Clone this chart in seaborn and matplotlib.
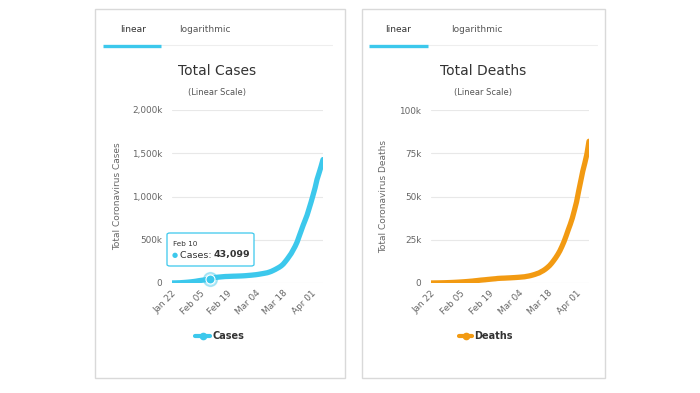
import numpy as np
import pandas as pd
import matplotlib
matplotlib.use("Agg")
import matplotlib.pyplot as plt
import matplotlib.dates as mdates
from matplotlib.patches import Rectangle, FancyBboxPatch
from matplotlib.lines import Line2D
import seaborn as sns

dates = pd.date_range("2020-01-22", "2020-04-07", freq="D")
cases = [580, 845, 1317, 2015, 2800, 4581, 6058, 7813, 9823, 11950,
         14553, 17391, 20630, 24545, 28266, 31439, 34876, 37552, 40553, 43099,
         45134, 59287, 64438, 67100, 69197, 71329, 73332, 75184, 75700, 76677,
         77673, 78651, 79205, 80087, 80828, 81820, 83112, 84615, 86604, 88585,
         90443, 93016, 95314, 98425, 102050, 106099, 109991, 114381, 118948, 126214,
         134576, 145483, 156653, 169593, 182490, 198238, 218822, 246417, 275869, 308463,
         341365, 383082, 424889, 475523, 540080, 603000, 667000, 725000, 785000, 860000,
         935000, 1016000, 1099000, 1197000, 1270000, 1345000, 1427000]
deaths = [17, 25, 41, 56, 80, 106, 132, 170, 213, 259,
          304, 362, 426, 492, 565, 638, 724, 813, 910, 1018,
          1115, 1261, 1383, 1526, 1669, 1775, 1873, 2009, 2126, 2247,
          2360, 2460, 2618, 2699, 2763, 2800, 2858, 2923, 2977, 3050,
          3117, 3202, 3285, 3387, 3494, 3599, 3827, 4025, 4296, 4628,
          4981, 5428, 5833, 6520, 7162, 7979, 8951, 10030, 11386, 12950,
          14623, 16497, 18615, 21181, 23970, 27198, 30652, 33925, 37582, 42107,
          46809, 52983, 58787, 64606, 69374, 74565, 81937]
tick_dates = ["2020-01-22", "2020-02-05", "2020-02-19", "2020-03-04", "2020-03-18", "2020-04-01"]
cases_ticks = [0, 500000, 1000000, 1500000, 2000000]
cases_ticklabels = ["0", "500k", "1,000k", "1,500k", "2,000k"]
deaths_ticks = [0, 25000, 50000, 75000, 100000]
deaths_ticklabels = ["0", "25k", "50k", "75k", "100k"]
tooltip_date = "2020-02-10"
tooltip_value = 43099

df = pd.DataFrame({"date": dates, "Cases": cases, "Deaths": deaths})

CYAN = "#3cc8ec"
ORANGE = "#f29a12"
GREY_TXT = "#666666"

sns.set_theme(style="white")
plt.rcParams["font.family"] = ["DejaVu Sans"]

W, H = 700, 393
fig = plt.figure(figsize=(7, 3.93), dpi=100)
fig.patch.set_facecolor("white")

def fx(x):
    return x / W

def fy(y):
    return 1 - y / H

# cards
for x0, x1 in [(95, 345), (362, 605)]:
    fig.add_artist(Rectangle((fx(x0), fy(378)), fx(x1 - x0), (378 - 9) / H,
                             transform=fig.transFigure, fill=False,
                             edgecolor="#d9d9d9", linewidth=1))

def card_header(x_lin, x_log, bar0, bar1, line_end, title, title_x):
    fig.text(fx(x_lin), fy(30), "linear", ha="center", va="center", fontsize=6.5, color="#333333")
    fig.text(fx(x_log), fy(30), "logarithmic", ha="center", va="center", fontsize=6.5, color="#555555")
    fig.add_artist(Line2D([fx(bar1), fx(line_end)], [fy(45), fy(45)], transform=fig.transFigure,
                          color="#eeeeee", linewidth=0.8))
    fig.add_artist(Line2D([fx(bar0), fx(bar1)], [fy(46), fy(46)], transform=fig.transFigure,
                          color=CYAN, linewidth=2.4, solid_capstyle="butt"))
    fig.text(fx(title_x), fy(71), title, ha="center", va="center", fontsize=10, color="#333333")
    fig.text(fx(title_x), fy(93), "(Linear Scale)", ha="center", va="center", fontsize=6, color="#555555")

card_header(133, 205, 103, 161, 332, "Total Cases", 217)
card_header(398, 477, 369, 428, 597, "Total Deaths", 483)

def make_axes(x0, x1, y0, y1):
    return fig.add_axes([fx(x0), fy(y1), fx(x1 - x0), (y1 - y0) / H])

def style_axes(ax, ticks, labels, ylabel):
    ax.set_xlim(dates[0], dates[-1])
    ax.set_ylim(ticks[0], ticks[-1])
    ax.set_yticks(ticks)
    ax.set_yticklabels(labels)
    ax.set_xticks(pd.to_datetime(tick_dates))
    ax.xaxis.set_major_formatter(mdates.DateFormatter("%b %d"))
    for lbl in ax.get_xticklabels():
        lbl.set_rotation(45)
        lbl.set_ha("right")
        lbl.set_rotation_mode("anchor")
    ax.tick_params(axis="both", labelsize=6.4, colors=GREY_TXT, length=0)
    ax.tick_params(axis="y", pad=7)
    ax.tick_params(axis="x", pad=4)
    ax.grid(axis="y", color="#e8e8e8", linewidth=0.8)
    ax.grid(axis="x", visible=False)
    for s in ax.spines.values():
        s.set_visible(False)
    ax.set_xlabel("")
    ax.set_ylabel(ylabel, fontsize=6.5, color=GREY_TXT, labelpad=4)
    ax.set_facecolor("none")
    ax.set_axisbelow(True)

ax1 = make_axes(172, 323, 110, 283)
sns.lineplot(data=df, x="date", y="Cases", ax=ax1, color=CYAN, linewidth=3.8, legend=False)
style_axes(ax1, cases_ticks, cases_ticklabels, "Total Coronavirus Cases")
ax1.yaxis.set_label_coords(-0.33, 0.5)
td = pd.Timestamp(tooltip_date)
ax1.plot([td], [tooltip_value], "o", color=CYAN, markersize=10, alpha=0.35, zorder=5, clip_on=False)
ax1.plot([td], [tooltip_value], "o", color=CYAN, markersize=6.5, markeredgecolor="white",
         markeredgewidth=0.8, zorder=6, clip_on=False)

# tooltip box
fig.add_artist(FancyBboxPatch((fx(167), fy(266)), fx(254 - 167), (266 - 233) / H,
                              boxstyle="round,pad=0,rounding_size=0.004",
                              transform=fig.transFigure, facecolor="white",
                              edgecolor=CYAN, linewidth=0.9, zorder=10))
fig.text(fx(173), fy(244), "Feb 10", ha="left", va="center", fontsize=5.2, color="#333333", zorder=11)
fig.text(fx(172), fy(255), "\u25cf", ha="left", va="center", fontsize=5, color=CYAN, zorder=11)
fig.text(fx(180), fy(255), "Cases: ", ha="left", va="center", fontsize=6.8, color="#333333", zorder=11)
fig.text(fx(214), fy(255), f"{tooltip_value:,}", ha="left", va="center", fontsize=6.8,
         color="#333333", fontweight="bold", zorder=11)

ax2 = make_axes(431, 589, 110, 283)
sns.lineplot(data=df, x="date", y="Deaths", ax=ax2, color=ORANGE, linewidth=3.8, legend=False)
style_axes(ax2, deaths_ticks, deaths_ticklabels, "Total Coronavirus Deaths")
ax2.yaxis.set_label_coords(-0.27, 0.5)

# legends
def legend_item(x_line0, x_line1, x_text, label, color):
    fig.add_artist(Line2D([fx(x_line0), fx(x_line1)], [fy(336), fy(336)], transform=fig.transFigure,
                          color=color, linewidth=3))
    fig.add_artist(Line2D([fx((x_line0 + x_line1) / 2)], [fy(336)], transform=fig.transFigure,
                          marker="o", markersize=4.5, color=color))
    fig.text(fx(x_text), fy(336), label, ha="left", va="center", fontsize=7, fontweight="bold",
             color="#333333")

legend_item(195, 210, 212, "Cases", CYAN)
legend_item(459, 472, 474, "Deaths", ORANGE)

fig.savefig("out.png", dpi=100, facecolor="white")
